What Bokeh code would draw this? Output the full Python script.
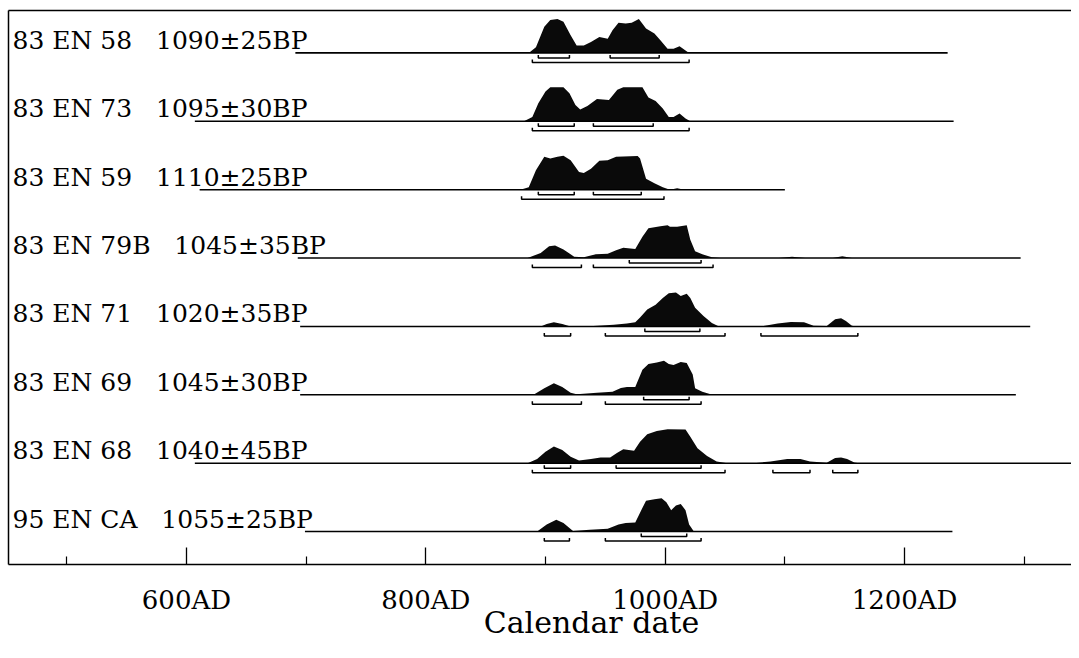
import numpy as np
from bokeh.plotting import figure
from bokeh.models import Range1d, FixedTicker, LinearAxis
from bokeh.core.properties import value
from bokeh.embed import file_html
from bokeh.resources import INLINE

# ---------------- data ----------------
labels = ["83 EN 58  1090±25BP", "83 EN 73  1095±30BP", "83 EN 59  1110±25BP",
          "83 EN 79B  1045±35BP", "83 EN 71  1020±35BP", "83 EN 69  1045±30BP",
          "83 EN 68  1040±45BP", "95 EN CA  1055±25BP"]
line_start = [691, 607, 611, 693, 695, 695, 607, 699]
line_end = [1236, 1241, 1100, 1297, 1305, 1293, 1350, 1240]

dens_years = [
    [886, 892, 899, 904, 910, 915, 921, 926, 932, 938, 945, 952, 956, 961, 967, 972, 978, 984, 991, 996, 1002, 1007, 1012, 1017, 1020],
    [882, 889, 894, 900, 904, 915, 920, 925, 929, 935, 943, 953, 960, 965, 981, 986, 992, 998, 1003, 1007, 1012, 1017, 1021],
    [879, 886, 892, 899, 904, 910, 915, 921, 928, 932, 938, 945, 952, 959, 977, 979, 984, 991, 998, 1004, 1010, 1016],
    [885, 896, 903, 908, 915, 924, 932, 942, 952, 959, 965, 975, 981, 986, 996, 1002, 1004, 1010, 1018, 1021, 1025, 1031, 1039, 1046, 1095, 1106, 1117, 1140, 1148, 1156],
    [896, 901, 907, 914, 921, 940, 957, 968, 975, 979, 985, 992, 998, 1003, 1009, 1013, 1018, 1021, 1025, 1032, 1039, 1045, 1080, 1094, 1105, 1116, 1124, 1135, 1142, 1147, 1151, 1156, 1160],
    [890, 899, 907, 914, 921, 926, 943, 956, 963, 968, 975, 981, 986, 993, 999, 1003, 1007, 1013, 1018, 1023, 1025, 1031, 1038, 1043],
    [885, 893, 900, 907, 914, 921, 928, 938, 946, 954, 960, 965, 974, 979, 985, 993, 1002, 1017, 1021, 1027, 1035, 1043, 1052, 1074, 1088, 1102, 1113, 1121, 1135, 1142, 1147, 1152, 1158, 1162],
    [893, 901, 909, 915, 923, 937, 952, 961, 967, 975, 980, 984, 991, 997, 1001, 1005, 1009, 1013, 1017, 1020, 1024],
]
dens_vals = [
    [0.0, 0.17, 0.77, 0.97, 1.0, 0.92, 0.52, 0.22, 0.22, 0.32, 0.47, 0.42, 0.67, 0.89, 0.87, 0.89, 1.0, 0.72, 0.57, 0.37, 0.12, 0.12, 0.2, 0.07, 0.0],
    [0.0, 0.13, 0.53, 0.88, 1.0, 1.0, 0.83, 0.48, 0.35, 0.45, 0.66, 0.63, 0.93, 1.0, 1.0, 0.70, 0.60, 0.38, 0.13, 0.13, 0.23, 0.08, 0.0],
    [0.0, 0.07, 0.57, 0.97, 0.92, 0.97, 1.0, 0.87, 0.52, 0.49, 0.62, 0.85, 0.87, 0.97, 0.99, 0.92, 0.32, 0.19, 0.07, 0.0, 0.04, 0.0],
    [0.0, 0.15, 0.35, 0.37, 0.25, 0.04, 0.02, 0.11, 0.13, 0.23, 0.30, 0.27, 0.63, 0.88, 0.94, 0.97, 0.92, 0.92, 0.97, 0.54, 0.20, 0.11, 0.02, 0.0, 0.0, 0.04, 0.0, 0.0, 0.05, 0.0],
    [0.0, 0.07, 0.12, 0.07, 0.0, 0.01, 0.05, 0.09, 0.12, 0.26, 0.50, 0.64, 0.84, 0.98, 1.0, 0.90, 0.96, 0.84, 0.55, 0.31, 0.10, 0.0, 0.0, 0.09, 0.13, 0.12, 0.02, 0.01, 0.21, 0.24, 0.16, 0.02, 0.0],
    [0.0, 0.19, 0.34, 0.23, 0.06, 0.02, 0.06, 0.09, 0.20, 0.23, 0.23, 0.74, 0.91, 0.95, 1.0, 0.91, 0.88, 0.97, 0.94, 0.60, 0.19, 0.09, 0.02, 0.0],
    [0.0, 0.12, 0.34, 0.49, 0.39, 0.19, 0.08, 0.12, 0.17, 0.17, 0.31, 0.41, 0.37, 0.63, 0.85, 0.95, 1.0, 0.99, 0.78, 0.44, 0.21, 0.05, 0.0, 0.0, 0.05, 0.12, 0.12, 0.05, 0.01, 0.15, 0.17, 0.12, 0.02, 0.0],
    [0.0, 0.21, 0.35, 0.25, 0.02, 0.05, 0.08, 0.21, 0.25, 0.27, 0.63, 0.91, 0.95, 0.98, 0.86, 0.63, 0.77, 0.81, 0.63, 0.21, 0.0],
]
hpd68 = [
    [(894, 920), (954, 995)],
    [(894, 924), (940, 990)],
    [(894, 924), (940, 980)],
    [(970, 1030)],
    [(983, 1029)],
    [(982, 1020)],
    [(899, 921), (959, 1030)],
    [(980, 1018)],
]
hpd95 = [
    [(889, 1020)],
    [(889, 1020)],
    [(880, 999)],
    [(889, 930), (940, 1040)],
    [(899, 921), (950, 1050), (1080, 1161)],
    [(889, 930), (950, 1030)],
    [(889, 1050), (1090, 1121), (1140, 1161)],
    [(899, 920), (950, 1030)],
]
tick_years = [600, 800, 1000, 1200]
tick_labels = ["600AD", "800AD", "1000AD", "1200AD"]
minor_years = [500, 700, 900, 1100, 1300]
x_label = "Calendar date"

# ---------------- layout constants ----------------
PX = 68.5                 # pixels per row unit
n = len(labels)
base = [n - i for i in range(n)]
H = 34.0 / PX             # max density height
OFF68 = 5.0 / PX
OFF95 = 9.5 / PX
TIP = 3.0 / PX
XLABEL_POS = 938.4        # horizontal centre of the axis title (as in the reference)
FONT = value("DejaVu Serif")
# keep the wide gap between sample name and date visible in SVG
shown_labels = [s.replace("  ", " \u00a0\u00a0") for s in labels]

p = figure(width=1071, height=642, output_backend="svg", toolbar_location=None,
           x_range=Range1d(451.3, 1339.5),
           y_range=Range1d(1 - 33.0 / PX, n + 42.5 / PX),
           min_border_left=8, min_border_right=0, min_border_top=10, min_border_bottom=77)
p.xgrid.visible = False
p.ygrid.visible = False
# the reference frame has no right edge; left/top/bottom are drawn by axes
p.outline_line_color = "white"
p.outline_line_width = 3
p.background_fill_color = "white"
p.border_fill_color = "white"

# densities
for i in range(n):
    yrs = np.array(dens_years[i], dtype=float)
    d = np.array(dens_vals[i], dtype=float)
    p.varea(x=yrs, y1=np.full(len(yrs), base[i]), y2=base[i] + d * H, fill_color="#0a0a0a")

# baselines
p.segment(x0=line_start, y0=base, x1=line_end, y1=base, line_color="black", line_width=1.6)

# range brackets
xs, ys = [], []
for i in range(n):
    for off, ranges in ((OFF68, hpd68[i]), (OFF95, hpd95[i])):
        yb = base[i] - off
        for a, b in ranges:
            xs.append([a, a, b, b])
            ys.append([yb + TIP, yb, yb, yb + TIP])
p.multi_line(xs=xs, ys=ys, line_color="black", line_width=1.5)

# labels
p.text(x=[p.x_range.start] * n, y=[b + 12.5 / PX for b in base], text=shown_labels,
       x_offset=4, text_baseline="alphabetic", text_align="left",
       text_font=FONT, text_font_size="25px", text_color="black")

# axes
xa = p.xaxis[0]
xa.ticker = FixedTicker(ticks=tick_years, minor_ticks=minor_years)
xa.major_label_overrides = {t: s for t, s in zip(tick_years, tick_labels)}
xa.axis_line_width = 1.5
xa.major_tick_in = 17
xa.major_tick_out = 0
xa.minor_tick_in = 8
xa.minor_tick_out = 0
xa.major_tick_line_width = 1.3
xa.minor_tick_line_width = 1.2
xa.major_label_standoff = 20
xa.major_label_text_font = "DejaVu Serif"
xa.major_label_text_font_size = "26px"
xa.major_label_text_color = "black"

# axis title row, placed where the reference has it
title_axis = LinearAxis(ticker=FixedTicker(ticks=[XLABEL_POS], minor_ticks=[]),
                        major_label_overrides={XLABEL_POS: x_label},
                        axis_line_color=None, major_tick_line_color=None,
                        minor_tick_line_color=None, major_tick_out=0, major_tick_in=0,
                        major_label_standoff=-13,
                        major_label_text_font="DejaVu Serif",
                        major_label_text_font_size="30px",
                        major_label_text_color="black")
p.add_layout(title_axis, "below")

ya = p.yaxis[0]
ya.ticker = FixedTicker(ticks=[])
ya.major_tick_line_color = None
ya.minor_tick_line_color = None
ya.major_label_standoff = 0
ya.axis_line_width = 1.5

top = LinearAxis(ticker=FixedTicker(ticks=[]), major_tick_line_color=None,
                 minor_tick_line_color=None, major_label_standoff=0, axis_line_width=1.5)
p.add_layout(top, "above")

open("out.html", "w").write(file_html(p, INLINE))
